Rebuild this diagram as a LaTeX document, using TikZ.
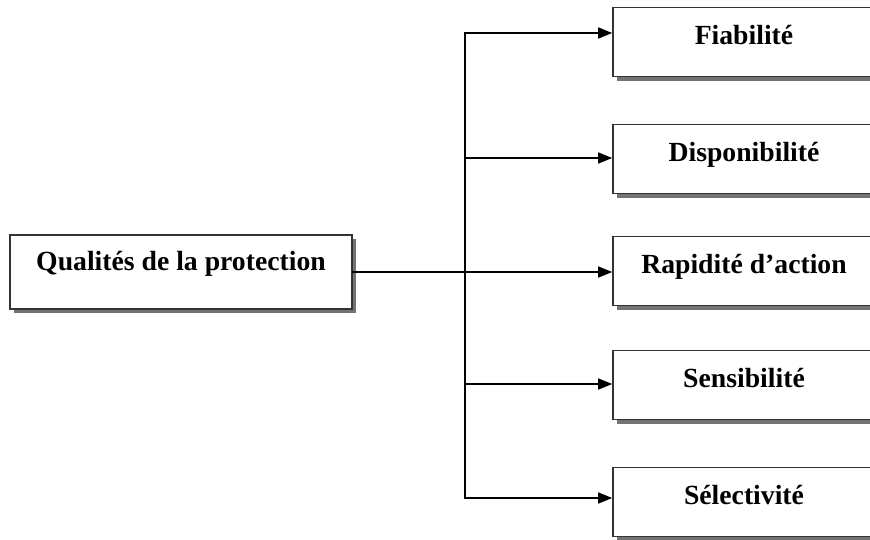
\documentclass[tikz,border=0pt]{standalone}
\usepackage{fontspec}
\setmainfont{Liberation Serif}
\usetikzlibrary{arrows.meta,shadows}
\tikzset{
  boite/.style={draw=black!80, line width=1.6pt, fill=white, inner sep=0pt,
    font=\bfseries\fontsize{27.7}{30}\selectfont,
    drop shadow={shadow xshift=4pt, shadow yshift=-4pt, fill=black!55, opacity=1}},
  fleche/.style={line width=1.5pt, -{Triangle[length=14pt,width=11pt]}},
  trait/.style={line width=1.5pt, line cap=rect}
}
\begin{document}
\begin{tikzpicture}[x=1pt,y=-1pt]
    \useasboundingbox (0,0) rectangle (870,539);
    \clip (0,0) rectangle (870,539);
    \node[boite, minimum width=342pt, text height=35pt, text depth=39pt] (qualites) at (181,272) {Qualités de la protection};
    \coordinate (bushaut) at (465,33);
    \coordinate (busbas) at (465,498);
    \draw[trait] (bushaut) -- (busbas);
    \draw[trait] (qualites.east) -- (qualites.east -| bushaut);
    \foreach \y/\f/\nom [count=\k] in {42/33/Fiabilité,159/158/Disponibilité,271/272/Rapidité d’action,385/384/Sensibilité,502/498/Sélectivité}
        {
        \node[boite, minimum width=262pt, text height=37pt, text depth=32pt] (qualite\k) at (744,\y) {\nom};
        \coordinate (depart\k) at (465,\f);
        \draw[fleche] (depart\k) -- (depart\k -| qualite\k.west);
        }
\end{tikzpicture}
\end{document}
